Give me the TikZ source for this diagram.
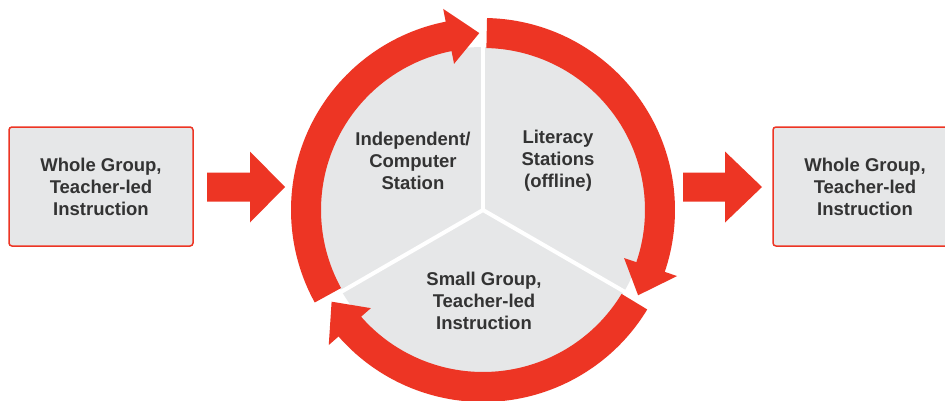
\documentclass[tikz,border=0pt]{standalone}
\usepackage{fontspec}
\setmainfont{Liberation Sans}
\definecolor{ared}{RGB}{237,53,36}
\definecolor{pgrey}{RGB}{230,231,232}
\definecolor{tgrey}{RGB}{51,51,51}
\begin{document}
\begin{tikzpicture}[
  lbl/.style={font=\bfseries\fontsize{18.5}{22}\selectfont, text=tgrey, align=center},
  box/.style={draw=ared, line width=1.5pt, fill=pgrey, rounded corners=3pt,
              minimum width=184pt, minimum height=119pt, inner sep=0pt},
  redfill/.style={fill=ared},
  gapline/.style={draw=white, line width=4pt}
]
\useasboundingbox (0,0) rectangle (945pt,400pt);
\fill[white] (0,0) rectangle (945pt,400pt);

% side boxes
\node[box,lbl] (wg1) at (101pt,213.5pt) {Whole Group,\\Teacher-led\\Instruction};
\node[box,lbl] (wg2) at (865pt,213.5pt) {Whole Group,\\Teacher-led\\Instruction};

% straight arrows
\fill[redfill] (207pt,198.5pt) -- (250pt,198.5pt) -- (250pt,177.5pt) -- (285pt,213pt)
  -- (250pt,248.5pt) -- (250pt,227.5pt) -- (207pt,227.5pt) -- cycle;
\fill[redfill] (683pt,198.5pt) -- (725pt,198.5pt) -- (725pt,177.5pt) -- (762pt,213pt)
  -- (725pt,248.5pt) -- (725pt,227.5pt) -- (683pt,227.5pt) -- cycle;

% cycle
\begin{scope}[shift={(483pt,190pt)}]
  \coordinate (c) at (0,0);
  \fill[pgrey] (c) circle[radius=163pt];
  \foreach \a in {90,210,330} \draw[gapline] (c) -- (\a:166pt);
  \foreach \t/\p in {208.8/91.2, 88.8/-28.8, -31.2/-148.8}{
    \pgfmathsetmacro\h{\p+10}
    \fill[redfill] (\t:192pt) arc[start angle=\t, end angle=\h, radius=192pt]
      -- (\h:205pt) -- (\p:177pt) -- (\h:149pt) -- (\h:162pt)
      arc[start angle=\h, end angle=\t, radius=162pt] -- cycle;
  }
\end{scope}

\node[lbl] (ind) at (413pt,239pt) {Independent/\\Computer\\Station};
\node[lbl] (lit) at (558pt,239pt) {Literacy\\Stations\\(offline)};
\node[lbl] (sg) at (484pt,99pt) {Small Group,\\Teacher-led\\Instruction};
\end{tikzpicture}
\end{document}
